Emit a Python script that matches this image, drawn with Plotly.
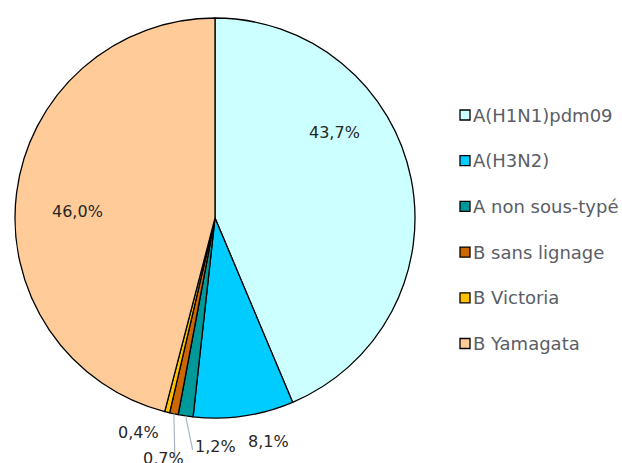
import math
import plotly.graph_objects as go

labels = ["A(H1N1)pdm09", "A(H3N2)", "A non sous-typé", "B sans lignage", "B Victoria", "B Yamagata"]
values = [43.7, 8.1, 1.2, 0.7, 0.4, 46.0]
colors = ["#CCFFFF", "#00CCFF", "#009999", "#CC6600", "#FFC000", "#FFCC99"]

W, H = 622, 463
cx, cy, r = 215, 218, 200

# data-label placement: offset of label centre from pie centre (px), and leader-line end offset from the
# slice-edge midpoint (None = no leader line)
label_pos = {0: (119, -86), 1: (53, 223), 2: (0, 228), 3: (-51, 240), 4: (-77, 214), 5: (-138, -7)}
leader = {2: (7, 34), 3: (1, 44)}

fig = go.Figure()
fig.add_trace(go.Pie(
    labels=labels, values=values, sort=False, direction="clockwise", rotation=0,
    marker=dict(colors=colors, line=dict(color="#000000", width=1.3)),
    textinfo="none",
    domain=dict(x=[(cx - r) / W, (cx + r) / W], y=[1 - (cy + r) / H, 1 - (cy - r) / H]),
    showlegend=False, hoverinfo="label+value",
))

total = sum(values)
cum = 0.0
for i, v in enumerate(values):
    mid = (cum + v / 2) / total
    cum += v
    phi = 2 * math.pi * mid
    tx = cx + r * math.sin(phi)
    ty = cy - r * math.cos(phi)
    lx, ly = label_pos[i]
    fig.add_annotation(
        x=(cx + lx) / W, y=1 - (cy + ly) / H, xref="paper", yref="paper",
        text=f"{v:.1f}%".replace(".", ","), showarrow=False,
        xanchor="center", yanchor="middle",
        font=dict(family="DejaVu Sans", size=16, color="#262626"),
    )
    if i in leader:
        ex, ey = leader[i]
        fig.add_shape(type="line", xref="paper", yref="paper",
                      x0=tx / W, y0=1 - ty / H, x1=(tx + ex) / W, y1=1 - (ty + ey) / H,
                      line=dict(color="#A9B6C8", width=1.2))

# legend
x0, y0, step, sq = 460, 115, 45.7, 10
for i, (lab, col) in enumerate(zip(labels, colors)):
    yc = y0 + i * step
    fig.add_shape(type="rect", xref="paper", yref="paper",
                  x0=x0 / W, x1=(x0 + sq) / W, y0=1 - (yc - sq / 2) / H, y1=1 - (yc + sq / 2) / H,
                  fillcolor=col, line=dict(color="#000000", width=1.3))
    fig.add_annotation(x=(x0 + sq + 1) / W, y=1 - yc / H, xref="paper", yref="paper",
                       text=lab, showarrow=False, xanchor="left", yanchor="middle",
                       font=dict(family="DejaVu Sans", size=18, color="#5A5E66"))

fig.update_layout(
    width=W, height=H, margin=dict(l=0, r=0, t=0, b=0),
    paper_bgcolor="white", plot_bgcolor="white",
    showlegend=False,
)
fig.write_html("out.html", config={"displayModeBar": False},
               post_script="document.body.style.margin='0';")
